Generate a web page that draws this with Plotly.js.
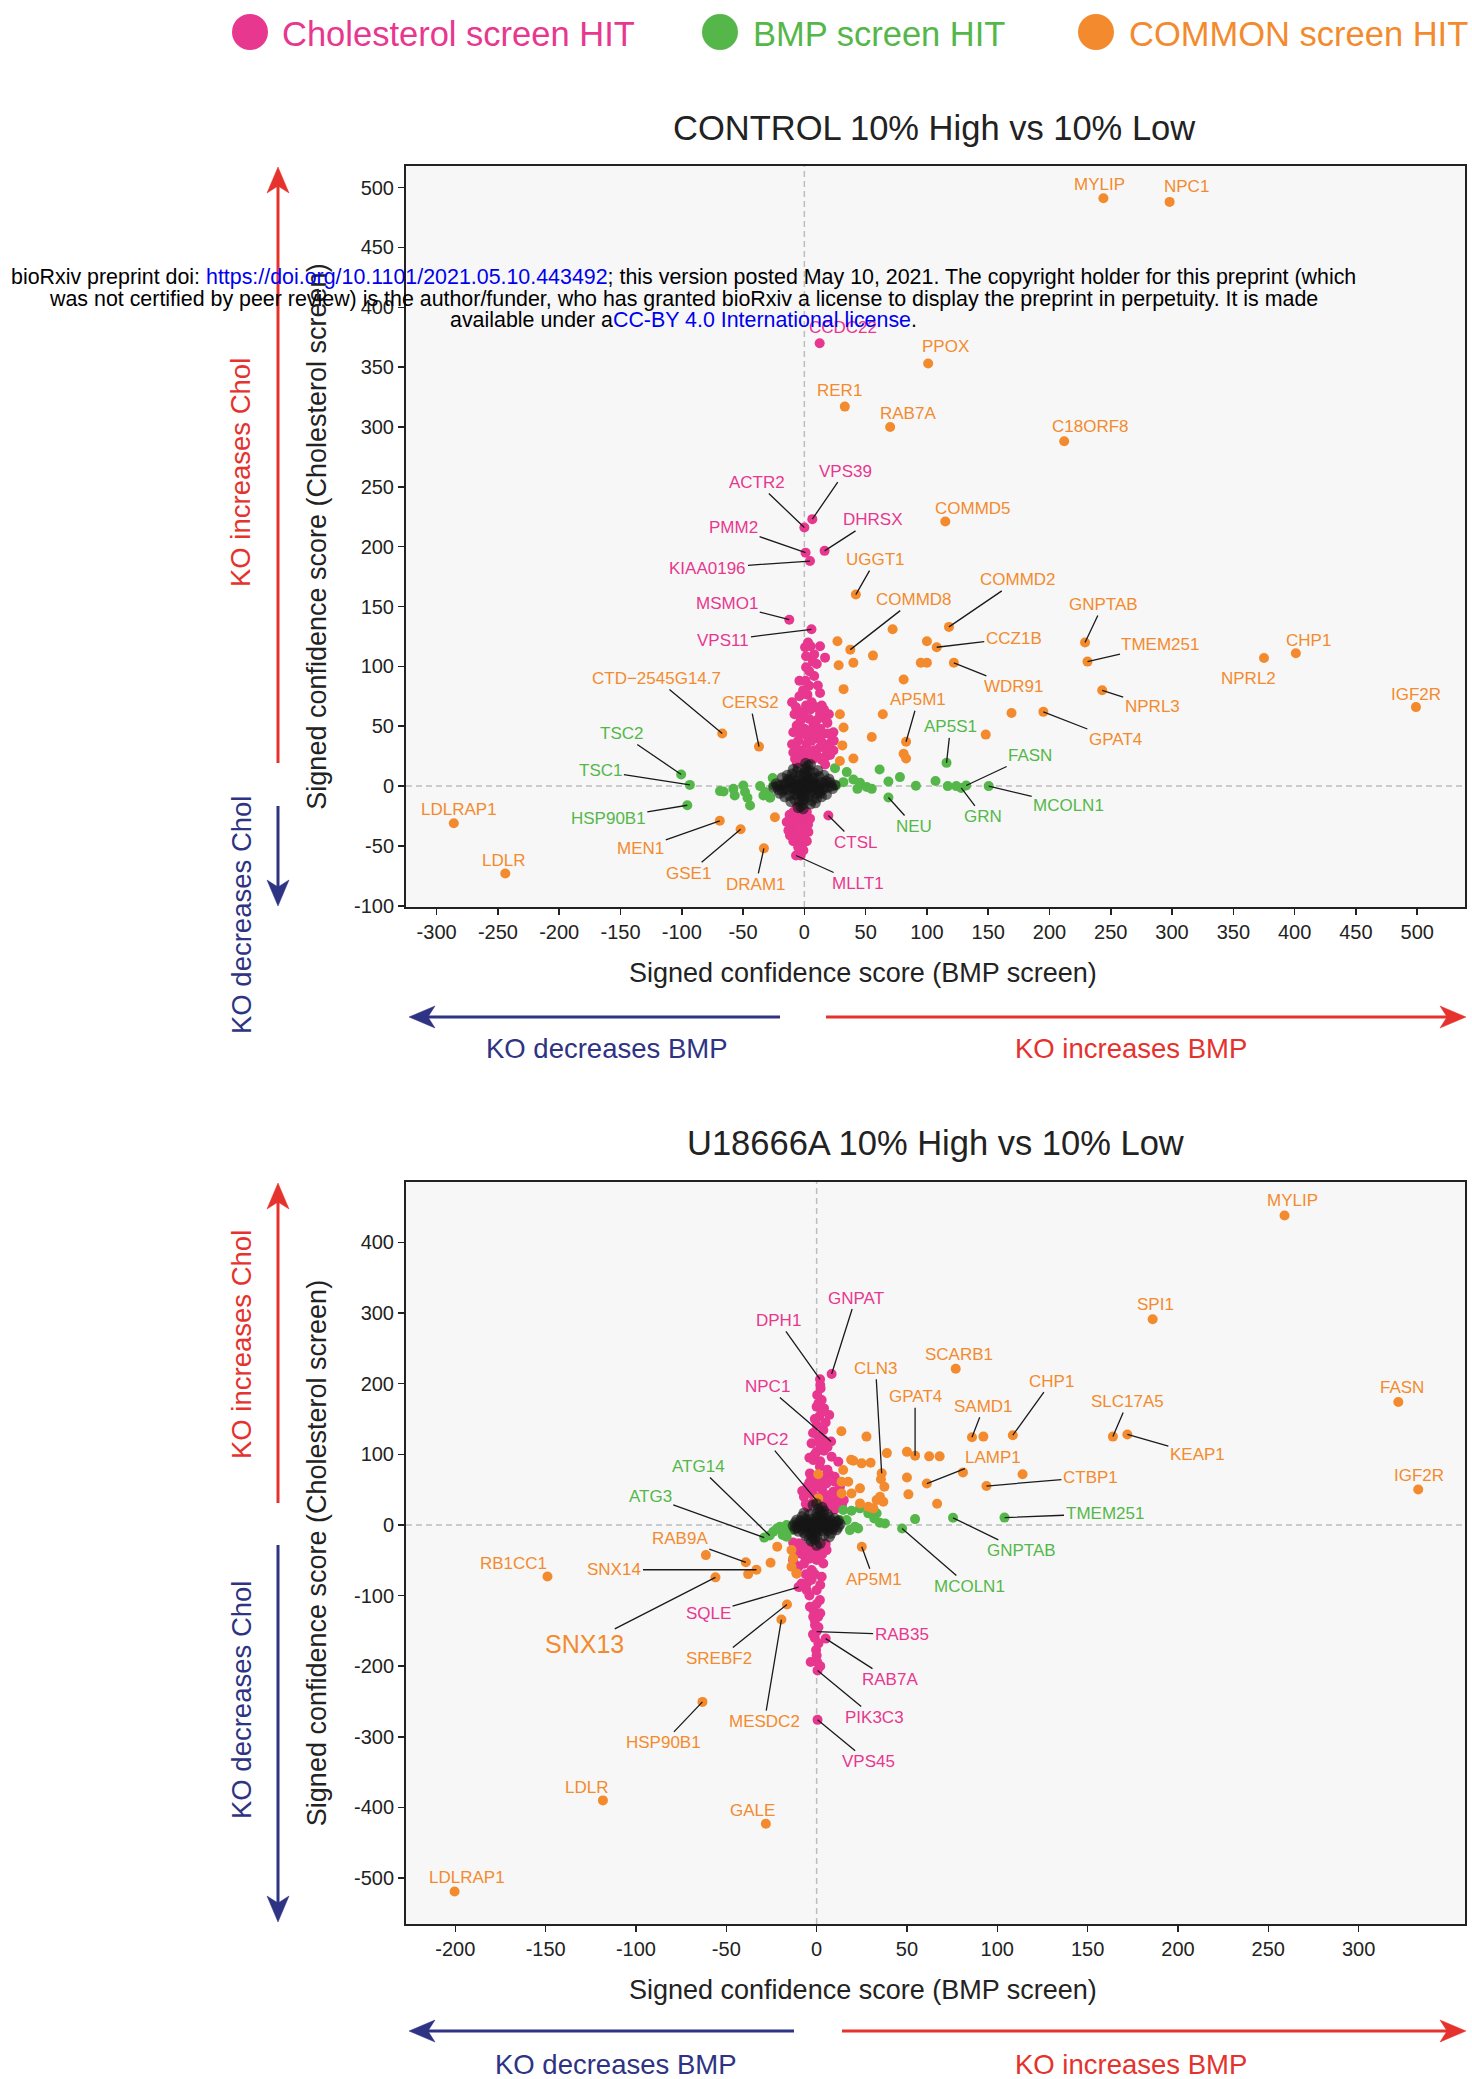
<!DOCTYPE html>
<html>
<head>
<meta charset="utf-8">
<script src="https://cdn.plot.ly/plotly-3.0.1.min.js"></script>
<style>html,body{margin:0;padding:0;background:#ffffff;}#chart{width:1472px;height:2079px;}</style>
</head>
<body>
<div id="chart"></div>
<script>
// ================= DATA =================
const ctrlXTickVals = [-300,-250,-200,-150,-100,-50,0,50,100,150,200,250,300,350,400,450,500];
const ctrlYTickVals = [-100,-50,0,50,100,150,200,250,300,350,400,450,500];
const u18XTickVals  = [-200,-150,-100,-50,0,50,100,150,200,250,300];
const u18YTickVals  = [-500,-400,-300,-200,-100,0,100,200,300,400];

// ---- CONTROL 10% High vs 10% Low ----
const ctrlCholGenes = ['CCDC22','VPS39','ACTR2','DHRSX','PMM2','KIAA0196','MSMO1','VPS11','CTSL','MLLT1'];
const ctrlCholGeneX = [12.5,6.5,0,16.5,1,4.6,-12.3,5.8,19.6,-6.8];
const ctrlCholGeneY = [370,223,216,196.5,195,188,139,131,-24.5,-58];
const ctrlCholOther = [[0.6,116],[5.1,116.8],[12.8,116.8],[1.4,108.5],[10.1,102],[16.9,107.3],[1.4,99.3],[3.8,83.9],[12.8,77.8],[2.5,76.4],[-6.8,65.9],[1.4,67.3],[14.2,67.3],[12.8,60.3],[18.8,52.8],[23.7,45],[-0.8,59],[7.4,50.6],[-6.2,50.6],[15.5,43.6],[22.3,37.2],[23.7,29.7],[12.8,32.5],[2,35.3],[-7.6,22.8],[7.4,22.8],[-3.5,43.6],[4.6,28.3],[16.9,24.2],[-0.8,20.1],[8,92],[-4,88],[6,70],[-2,30],[10,40],[18,30],[-5,26],[20,60],[8,110],
  [-10,70],[-8,60],[-9,45],[-10,35],[-9,28],[-4,75],[-3,55],[-5,38],[-2,62],[0,48],[2,42],[4,56],[5,64],[6,38],[8,30],[9,44],[10,55],[11,25],[13,48],[15,36],[17,56],[19,44],[20,33],[21,26],[24,38],[3,25],[-1,26],[6,46],[14,22],[17,18],[-6,19],[1,88],[4,96],[-1,80],[11,84],[7,104],[3,120],[9,66],[16,64],[-7,32],
  [-11.7,-41.2],[-2.1,-49.6],[-6.2,-30],[2,-21.7],[-8.9,-21.7],[-14.4,-30],[0.6,-32.8],[-3.5,-43.9],[3.3,-38.3],[-10.3,-35.5],[-0.8,-53.7],[4.6,-27.2],[-6.2,-17.5],
  [-12,-24],[-9,-28],[-13,-37],[-7,-40],[-5,-25],[-1,-38],[1,-28],[-4,-33],[-9,-46],[-5,-51],[2,-46],[-12,-30],[-1,-22],[3,-32],[-3,-58],[0,-44]];

const ctrlBmpGenes = ['TSC2','TSC1','HSP90B1','AP5S1','FASN','GRN','MCOLN1','NEU'];
const ctrlBmpGeneX = [-100.5,-93.4,-95.5,116,132,128,150.4,68.6];
const ctrlBmpGeneY = [9.7,1,-16,19.4,0.5,-1.5,0,-9.5];
const ctrlBmpOther = [[61.4,13.9],[78,7.5],[68.6,3.9],[91,0.3],[107,4.2],[117,0],[124,0],[25,15],[34.6,11.7],[25.9,0.5],[31.8,3.3],[40,5.5],[45.4,2.8],[50.9,-0.8],[55,-2.3],[43.3,-2.3],[-68.8,-4.2],[-57.9,-2.3],[-49.8,0.5],[-48.4,-5],[-44.3,-16.2],[-36.1,0],[-33.4,-7.8],[-25.8,6.7],[-25.3,0.5],[-28,-9.8],[-65.9,-4.5],[-56.8,-7.8],[-46.4,-9.8],[-31.8,-5],[-27.7,-9.2]];

const ctrlCommonGenes = ['MYLIP','NPC1','PPOX','RER1','RAB7A','C18ORF8','COMMD5','UGGT1','COMMD2','COMMD8','CCZ1B','WDR91','GNPTAB','TMEM251','NPRL2','CHP1','NPRL3','IGF2R','GPAT4','AP5M1','CTD\u22122545G14.7','CERS2','LDLRAP1','LDLR','MEN1','GSE1','DRAM1'];
const ctrlCommonGeneX = [244,298,101,33,70,212,115,42,118,37.5,108,122,229,231,375,401,243,499,195,83,-67,-37,-286,-244,-69,-52,-33];
const ctrlCommonGeneY = [491,488,353,317,300,288,221,160,133,114,116,103,120,104,107,111,80,66,62,37,44,33,-31,-73,-29,-36,-52];
const ctrlCommonOther = [[72,131],[100,121],[27,121],[56,109],[40,103],[28,101],[95,103],[100,103],[81,89],[32,81],[169,61],[64,60],[29,60],[32,49],[55,41],[148,43],[31,34],[81,27],[83,23],[29,21],[40,23],[-24,-26]];

const ctrlBackground = [[0,0],[2,1],[-2,-1],[4,-2],[-4,2],[1,-4],[-1,4],[6,3],[-6,-3],[7,-1],[-7,1],[3,6],[-3,-6],[9,2],[-9,-2],[5,-6],[-5,6],[11,-2],[-11,2],[2,9],[-2,-9],[8,7],[-8,-7],[13,1],[-13,-1],[0,11],[0,-11],[10,-6],[-10,6],[15,-3],[-15,3],[4,13],[-4,-13],[17,2],[-17,-2],[12,8],[-12,-8],[19,-1],[-19,1],[6,-12],[-6,12],[21,3],[-21,-3],[1,15],[-1,-15],[14,-9],[-14,9],[23,-2],[-23,2],[3,17],[-3,-17],[16,9],[-16,-9],[9,-14],[-9,14],[25,1],[-25,-1],[5,18],[-5,-18],[18,-7],[-18,7],[11,13],[-11,-13],[20,6],[-20,-6],
  [1,1],[-1,1],[1,-1],[-1,-1],[3,-1],[-3,1],[2,3],[-2,-3],[5,1],[-5,-1],[4,4],[-4,-4],[6,-4],[-6,4],[8,0],[-8,0],[0,8],[0,-8],[3,-9],[-3,9],[7,6],[-7,-6],[10,1],[-10,-1],[12,-5],[-12,5],[14,3],[-14,-3],[16,-1],[-16,1],[2,12],[-2,-12],[5,-15],[-5,15],[8,11],[-8,-11],[10,-10],[-10,10],[18,4],[-18,-4],[22,0],[-22,0],[1,19],[-1,-19],[13,-6],[-13,6]];

// ---- U18666A 10% High vs 10% Low ----
const u18CholGenes = ['GNPAT','DPH1','NPC1','NPC2','SQLE','RAB35','RAB7A','PIK3C3','VPS45'];
const u18CholGeneX = [8.3,1.9,8,0.5,-10,0,5,0.5,0.5];
const u18CholGeneY = [213.5,206,118,33,-88,-151,-161,-206,-276];
const u18CholOther = [[2.2,193],[0.3,183.8],[2.8,176.7],[0,167.2],[4.1,164.9],[7,155.5],[1.4,153.1],[0,141.3],[3.7,134.2],[-2.8,115.4],[1.8,115.4],[8.3,96.4],[12,89.4],[0,103.5],[-1.8,91.7],[1.8,82.3],[-3.7,72.9],[3.7,68.2],[7.4,70.6],[0,54],[5.5,58.6],[10.1,61],[-2.8,44.6],[2.8,39.9],[9.2,47],[12.9,54],[-1.8,32.7],[7.4,35],[12,39.9],[-5,25],[-7,40],[5,25],[14,28],[10,22],[-4,60],[4,120],[1,125],[5,145],[-1,100],
  [-6,30],[-8,48],[-5,55],[-3,65],[1,62],[3,50],[6,42],[8,28],[11,30],[13,46],[15,35],[4,33],[-1,40],[10,68],[6,78],[2,90],[-2,130],[3,160],[1,172],[-1,150],[2,198],[4,105],[-4,95],[6,110],
  [-9.2,-26.2],[-3.7,-33.3],[1.8,-28.6],[5.5,-35.7],[-6.5,-45.1],[0,-49.8],[3.7,-54.6],[-10.1,-59.3],[-2.8,-64],[2.8,-73.5],[-5.5,-82.9],[0,-92.4],[-9.2,-87.6],[1.8,-106.5],[-1.8,-120.6],[0.9,-130],[-0.9,-141.8],[-0.3,-177],[-3.3,-194],[0.3,-194],[-10.2,-26.2],[-9.2,-40.4],[-11.1,-68.7],[-8.3,-82.9],[-5.5,-92.3],[-3.7,-116],[-1.9,-130],[1,-168],[-1,-160],
  [-13,-25],[-12,-35],[-8,-30],[-6,-38],[-4,-48],[-2,-40],[1,-36],[3,-42],[5,-27],[-13,-50],[-11,-58],[-7,-55],[-6,-70],[-3,-78],[-1,-70],[2,-85],[-4,-100],[0,-112],[2,-125],[-1,-135],[1,-145],[-2,-155],[0,-185],[2,-200]];

const u18BmpGenes = ['ATG14','ATG3','MCOLN1','GNPTAB','TMEM251'];
const u18BmpGeneX = [-26,-29,47.3,75.5,104];
const u18BmpGeneY = [-15,-18,-5,10,10.3];
const u18BmpOther = [[54.5,8.2],[14.7,21],[19.3,20],[24,23.4],[28.6,16.3],[31.9,9.2],[35,3],[37.8,2.1],[33.2,16.3],[16.6,6.8],[21.2,-2.7],[23,-5],[12.9,6.8],[18.4,-7.4],[-20.3,-2.7],[-16.6,-7.4],[-13,-2.7],[-24,-9.7],[-16.6,-0.3],[-13.8,-7.4],[-16.6,-16.8],[-18.8,-14.4],[-22,-5]];

const u18CommonGenes = ['MYLIP','SPI1','FASN','IGF2R','SCARB1','CHP1','SAMD1','SLC17A5','KEAP1','GPAT4','CLN3','LAMP1','CTBP1','AP5M1','RB1CC1','SNX13','SNX14','RAB9A','SREBF2','MESDC2','HSP90B1','LDLR','GALE','LDLRAP1'];
const u18CommonGeneX = [259,186,322,333,77,108.6,86,164,172,54.5,36,61,94,25,-149,-56,-33.3,-39.2,-16.4,-19.5,-63.2,-118.3,-28.1,-200.4];
const u18CommonGeneY = [438,291,174,50,221,127,124,125,128,98,73,58.5,55,-31,-73,-74.3,-63.5,-53,-112.6,-134,-250.6,-390,-423,-519];
const u18CommonOther = [[92.3,125],[50,103.4],[62.3,97],[68.1,97],[27.6,125],[13.7,132.6],[38.9,101.6],[19.1,92.2],[20.3,90.8],[24.9,87.1],[29.9,87.9],[35.6,64.5],[37.5,54],[50,67],[81,74.3],[114,71.7],[50.8,43.2],[66.7,30],[14.7,77.6],[17.5,61],[19.3,44.6],[24,51.7],[24,30.4],[28.6,25.6],[33.2,35.1],[36.9,32.7],[35.1,39.8],[31.4,23.4],[13.8,61],[13.8,44.6],[0.9,71.7],[0.9,37.5],[-61.3,-42.8],[-21.8,-31],[-25.5,-53.6],[-37.9,-69.7],[-13.9,-35.7],[-13,-47.4],[-13.9,-59.3],[-11.1,-68.7]];

const u18Background = [[0,0],[1,2],[-1,-2],[2,-3],[-2,3],[0,-6],[0,6],[3,4],[-3,-4],[4,-1],[-4,1],[2,9],[-2,-9],[5,3],[-5,-3],[3,-8],[-3,8],[6,-2],[-6,2],[1,13],[-1,-13],[5,9],[-5,-9],[7,1],[-7,-1],[0,16],[0,-16],[6,-8],[-6,8],[8,-4],[-8,4],[2,19],[-2,-19],[9,2],[-9,-2],[7,11],[-7,-11],[10,-1],[-10,1],[4,-15],[-4,15],[11,4],[-11,-4],[1,22],[-1,-21],[8,-12],[-8,12],[12,-3],[-12,3],[3,25],[-3,-23],[10,9],[-10,-9],[13,1],[-13,-1],
  [1,1],[-1,-1],[1,-1],[-1,1],[2,4],[-2,-4],[3,-1],[-3,1],[0,10],[0,-10],[4,6],[-4,-6],[5,-5],[-5,5],[6,0],[-6,0],[8,6],[-8,-6],[9,-6],[-9,6],[3,14],[-3,-14],[2,-26],[-2,28],[0,30],[0,-29],[4,20],[-4,-20],[11,-7],[-11,7],[7,-17],[-7,17],[12,6],[-12,-6],[6,15],[-6,-15]];

// ================= LABEL PLACEMENT (pixel offsets of label from its point; 1 = leader line) =================
const ctrlLabelPos = {
  MYLIP:[-4,-14,0], NPC1:[17,-15,0], CCDC22:[23,-16,0], PPOX:[17,-17,0], RER1:[-5,-16,0], RAB7A:[18,-13,0],
  C18ORF8:[26,-15,0], COMMD5:[28,-13,0], CHP1:[13,-13,0], NPRL2:[-15,20,0], IGF2R:[0,-13,0], LDLRAP1:[5,-14,0], LDLR:[-2,-13,0],
  VPS39:[33,-48,1], ACTR2:[-47,-45,1], PMM2:[-72,-25,1], DHRSX:[48,-31,1], KIAA0196:[-102,7,1], UGGT1:[20,-35,1],
  MSMO1:[-62,-16,1], VPS11:[-88,11,1], COMMD8:[64,-50,1], COMMD2:[69,-47,1], CCZ1B:[77,-9,1], GNPTAB:[18,-38,1],
  TMEM251:[73,-17,1], WDR91:[60,24,1], NPRL3:[50,16,1], GPAT4:[72,28,1], AP5M1:[12,-42,1], AP5S1:[4,-36,1],
  FASN:[64,-30,1], GRN:[22,29,1], MCOLN1:[80,19,1], NEU:[26,29,1], 'CTD\u22122545G14.7':[-66,-55,1], CERS2:[-9,-44,1],
  TSC2:[-60,-41,1], TSC1:[-89,-14,1], HSP90B1:[-79,13,1], MEN1:[-79,28,1], GSE1:[-52,44,1], DRAM1:[-8,36,1],
  MLLT1:[62,28,1], CTSL:[27,27,1]
};
const u18LabelPos = {
  MYLIP:[8,-15,0], SPI1:[3,-15,0], FASN:[4,-14,0], IGF2R:[1,-14,0], SCARB1:[3,-14,0], RB1CC1:[-34,-13,0],
  LDLR:[-16,-13,0], GALE:[-13,-13,0], LDLRAP1:[12,-14,0],
  GNPAT:[24,-76,1], DPH1:[-42,-59,1], NPC1:[-64,-55,1], NPC2:[-52,-62,1], CLN3:[-6,-105,1], GPAT4:[0,-59,1],
  SAMD1:[12,-31,1], CHP1:[39,-54,1], SLC17A5:[15,-35,1], KEAP1:[70,20,1], LAMP1:[66,-26,1], CTBP1:[104,-9,1],
  TMEM251:[100,-4,1], GNPTAB:[68,33,1], MCOLN1:[67,58,1], AP5M1:[12,33,1], ATG14:[-71,-69,1], ATG3:[-114,-41,1],
  RAB9A:[-66,-24,1], SNX14:[-142,0,1], SNX13:[-131,67,1], SQLE:[-90,26,1], SREBF2:[-68,54,1], MESDC2:[-17,102,1],
  RAB35:[85,3,1], RAB7A:[64,41,1], PIK3C3:[57,47,1], VPS45:[51,42,1], HSP90B1:[-39,41,1]
};

// ================= STYLE / BUILD =================
const W = 1472, H = 2079;
const FONT = '"Liberation Sans", Arial, Helvetica, sans-serif';
const PINK = '#E8378F', GREEN = '#55B74A', ORANGE = '#F38B2E';
const RED = '#E5322D', NAVY = '#2E3383', LINK = '#0000EE';
const BG_PT = 'rgba(22,22,22,0.6)';
const px = v => v / W, py = v => 1 - v / H;

function pts(geneVals, others, k) { return geneVals.concat(others.map(p => p[k])); }
function trace(name, xs, ys, color, xa, ya, size) {
  return {type:'scatter', mode:'markers', name, x:xs, y:ys, xaxis:xa, yaxis:ya,
          marker:{color, size:size || 10, line:{width:0}}, hoverinfo:'skip'};
}

const traces = [
  trace('Cholesterol screen HIT', pts(ctrlCholGeneX, ctrlCholOther, 0), pts(ctrlCholGeneY, ctrlCholOther, 1), PINK, 'x', 'y'),
  trace('BMP screen HIT', pts(ctrlBmpGeneX, ctrlBmpOther, 0), pts(ctrlBmpGeneY, ctrlBmpOther, 1), GREEN, 'x', 'y'),
  trace('COMMON screen HIT', pts(ctrlCommonGeneX, ctrlCommonOther, 0), pts(ctrlCommonGeneY, ctrlCommonOther, 1), ORANGE, 'x', 'y'),
  trace('other', ctrlBackground.map(p => p[0]), ctrlBackground.map(p => p[1]), BG_PT, 'x', 'y', 11),
  trace('Cholesterol screen HIT', pts(u18CholGeneX, u18CholOther, 0), pts(u18CholGeneY, u18CholOther, 1), PINK, 'x2', 'y2'),
  trace('BMP screen HIT', pts(u18BmpGeneX, u18BmpOther, 0), pts(u18BmpGeneY, u18BmpOther, 1), GREEN, 'x2', 'y2'),
  trace('COMMON screen HIT', pts(u18CommonGeneX, u18CommonOther, 0), pts(u18CommonGeneY, u18CommonOther, 1), ORANGE, 'x2', 'y2'),
  trace('other', u18Background.map(p => p[0]), u18Background.map(p => p[1]), BG_PT, 'x2', 'y2', 11)
];

function geneLabels(genes, xs, ys, color, pos, xref, yref) {
  const out = [];
  genes.forEach((g, i) => {
    const o = pos[g]; if (!o) return;
    const a = {x: xs[i], y: ys[i], xref, yref, text: g,
      font: {family: FONT, size: g === 'SNX13' ? 25 : 17, color}};
    if (o[2]) {
      Object.assign(a, {showarrow: true, ax: o[0], ay: o[1], arrowhead: 0, arrowwidth: 1.3,
        arrowcolor: '#1a1a1a', standoff: 0, startstandoff: 0});
    } else {
      Object.assign(a, {showarrow: false, xshift: o[0], yshift: -o[1]});
    }
    out.push(a);
  });
  return out;
}

function txt(text, x, y, size, color, extra) {
  return Object.assign({xref:'paper', yref:'paper', x: px(x), y: py(y), text, showarrow:false,
    xanchor:'center', yanchor:'middle', font:{family: FONT, size, color}}, extra || {});
}

function arrow(x1, y1, x2, y2, color) {
  const dx = x2 - x1, dy = y2 - y1, len = Math.hypot(dx, dy), ux = dx / len, uy = dy / len;
  const L = 26, Wd = 11, notch = 7;
  const bx = x2 - ux * L, by = y2 - uy * L;
  const nx = x2 - ux * (L - notch), ny = y2 - uy * (L - notch);
  const c1x = bx - uy * Wd, c1y = by + ux * Wd, c2x = bx + uy * Wd, c2y = by - ux * Wd;
  const P = (x, y) => px(x) + ',' + py(y);
  return [
    {type:'line', xref:'paper', yref:'paper', x0:px(x1), y0:py(y1), x1:px(nx), y1:py(ny), line:{color, width:3}},
    {type:'path', xref:'paper', yref:'paper', path:'M' + P(x2, y2) + ' L' + P(c1x, c1y) + ' L' + P(nx, ny) + ' L' + P(c2x, c2y) + ' Z',
     fillcolor: color, line:{color, width:0.5}}
  ];
}

const axBase = {showline:true, mirror:true, linecolor:'#222', linewidth:2, ticks:'outside', ticklen:6,
  tickwidth:1.5, tickcolor:'#222', showgrid:false, zeroline:false, fixedrange:true,
  tickfont:{family: FONT, size: 20, color:'#222'}};
const yTitle = {text:'Signed confidence score (Cholesterol screen)', font:{family: FONT, size: 27, color:'#222'}, standoff: 20};
const xDom = [406 / W, 1465 / W];

const dash = {color:'#BDBDBD', width:1.5, dash:'6px,4px'};
const shapes = [
  {type:'line', xref:'x', yref:'y domain', x0:0, x1:0, y0:0, y1:1, line:dash, layer:'below'},
  {type:'line', xref:'x domain', yref:'y', x0:0, x1:1, y0:0, y1:0, line:dash, layer:'below'},
  {type:'line', xref:'x2', yref:'y2 domain', x0:0, x1:0, y0:0, y1:1, line:dash, layer:'below'},
  {type:'line', xref:'x2 domain', yref:'y2', x0:0, x1:1, y0:0, y1:0, line:dash, layer:'below'},
  // legend dots
  {type:'circle', xref:'paper', yref:'paper', xsizemode:'pixel', ysizemode:'pixel', xanchor:px(250), yanchor:py(32), x0:-18, x1:18, y0:-18, y1:18, fillcolor:PINK, line:{width:0}},
  {type:'circle', xref:'paper', yref:'paper', xsizemode:'pixel', ysizemode:'pixel', xanchor:px(720), yanchor:py(32), x0:-18, x1:18, y0:-18, y1:18, fillcolor:GREEN, line:{width:0}},
  {type:'circle', xref:'paper', yref:'paper', xsizemode:'pixel', ysizemode:'pixel', xanchor:px(1096), yanchor:py(32), x0:-18, x1:18, y0:-18, y1:18, fillcolor:ORANGE, line:{width:0}}
].concat(
  arrow(278, 763, 278, 167, RED), arrow(278, 806, 278, 906, NAVY),
  arrow(780, 1017, 409, 1017, NAVY), arrow(826, 1017, 1466, 1017, RED),
  arrow(278, 1503, 278, 1183, RED), arrow(278, 1545, 278, 1922, NAVY),
  arrow(794, 2031, 409, 2031, NAVY), arrow(842, 2031, 1466, 2031, RED)
);

const annotations = [].concat(
  geneLabels(ctrlCholGenes, ctrlCholGeneX, ctrlCholGeneY, PINK, ctrlLabelPos, 'x', 'y'),
  geneLabels(ctrlBmpGenes, ctrlBmpGeneX, ctrlBmpGeneY, GREEN, ctrlLabelPos, 'x', 'y'),
  geneLabels(ctrlCommonGenes, ctrlCommonGeneX, ctrlCommonGeneY, ORANGE, ctrlLabelPos, 'x', 'y'),
  geneLabels(u18CholGenes, u18CholGeneX, u18CholGeneY, PINK, u18LabelPos, 'x2', 'y2'),
  geneLabels(u18BmpGenes, u18BmpGeneX, u18BmpGeneY, GREEN, u18LabelPos, 'x2', 'y2'),
  geneLabels(u18CommonGenes, u18CommonGeneX, u18CommonGeneY, ORANGE, u18LabelPos, 'x2', 'y2'),
  [
    txt('Cholesterol screen HIT', 280, 34, 34.5, PINK, {xanchor:'left'}),
    txt('BMP screen HIT', 751, 34, 34.5, GREEN, {xanchor:'left'}),
    txt('COMMON screen HIT', 1127, 34, 34.5, ORANGE, {xanchor:'left'}),
    txt('CONTROL 10% High vs 10% Low', 934, 128, 34.5, '#222'),
    txt('U18666A 10% High vs 10% Low', 935, 1143, 34.5, '#222'),
    txt('Signed confidence score (BMP screen)', 863, 973, 27, '#222'),
    txt('Signed confidence score (BMP screen)', 863, 1990, 27, '#222'),
    txt('KO increases Chol', 241, 473, 27.5, RED, {textangle:-90}),
    txt('KO decreases Chol', 241, 915, 27.5, NAVY, {textangle:-90}),
    txt('KO increases Chol', 241, 1345, 27.5, RED, {textangle:-90}),
    txt('KO decreases Chol', 241, 1700, 27.5, NAVY, {textangle:-90}),
    txt('KO decreases BMP', 606, 1048, 27.5, NAVY),
    txt('KO increases BMP', 1131, 1048, 27.5, RED),
    txt('KO decreases BMP', 615, 2064, 27.5, NAVY),
    txt('KO increases BMP', 1131, 2064, 27.5, RED),
    txt('bioRxiv preprint doi: <span style="color:' + LINK + '">https://doi.org/10.1101/2021.05.10.443492</span>; this version posted May 10, 2021. The copyright holder for this preprint (which', 683, 277, 21.4, '#000'),
    txt('was not certified by peer review) is the author/funder, who has granted bioRxiv a license to display the preprint in perpetuity. It is made', 683, 298.5, 21.4, '#000'),
    txt('available under a<span style="color:' + LINK + '">CC-BY 4.0 International license</span>.', 683, 320, 21.4, '#000')
  ]
);

const layout = {
  width: W, height: H, margin:{l:0, r:0, t:0, b:0}, paper_bgcolor:'#ffffff', plot_bgcolor:'#F7F7F7',
  showlegend:false, font:{family: FONT, color:'#222'},
  xaxis: Object.assign({}, axBase, {domain:xDom, anchor:'y', range:[-325, 539],
    tickvals: ctrlXTickVals, ticktext: ctrlXTickVals.map(String)}),
  yaxis: Object.assign({}, axBase, {domain:[1 - 907 / H, 1 - 166 / H], anchor:'x', range:[-101, 518],
    tickvals: ctrlYTickVals, ticktext: ctrlYTickVals.map(String), title: yTitle}),
  xaxis2: Object.assign({}, axBase, {domain:xDom, anchor:'y2', range:[-227.3, 358.9],
    tickvals: u18XTickVals, ticktext: u18XTickVals.map(String)}),
  yaxis2: Object.assign({}, axBase, {domain:[1 - 1924 / H, 1 - 1182 / H], anchor:'x2', range:[-565, 485.4],
    tickvals: u18YTickVals, ticktext: u18YTickVals.map(String), title: yTitle}),
  shapes, annotations
};

Plotly.newPlot('chart', traces, layout, {displayModeBar:false, staticPlot:true});
</script>
</body>
</html>
